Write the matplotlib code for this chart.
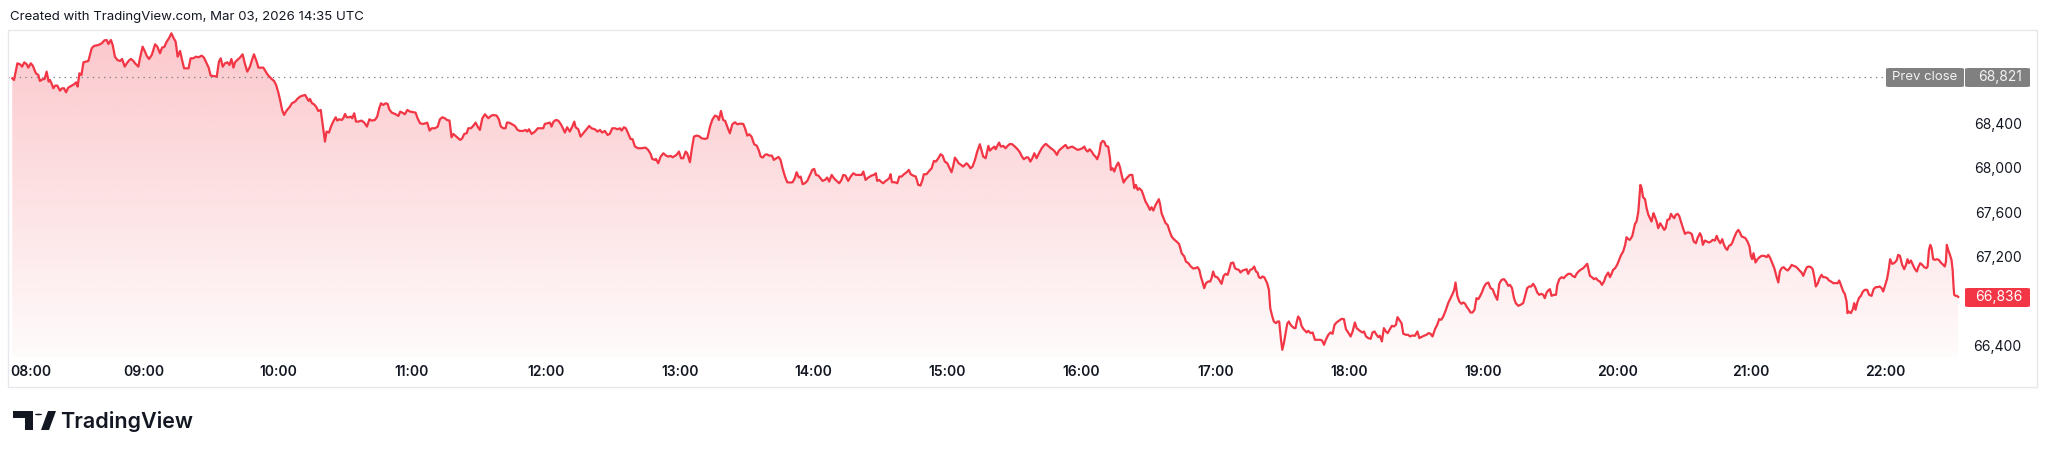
import numpy as np
import matplotlib
matplotlib.use("Agg")
import matplotlib.pyplot as plt
from matplotlib.colors import to_rgb
from matplotlib.patches import Rectangle, FancyBboxPatch, Polygon, Circle

plt.rcParams['font.family'] = ['Inter', 'DejaVu Sans']

# minutes after 08:00 (local, UTC+8) and last price
t_a = [1.0, 1.8, 3.3, 4.5, 5.4, 6.4, 7.5, 8.2, 9.3, 10.2,
       11.6, 12.7, 13.4, 14.6, 15.5, 16.4, 17.3, 17.9, 18.7, 19.4,
       20.2, 21.2, 22.4, 23.3, 24.2, 25.1, 26.1, 27.6, 28.7, 29.6,
       30.3, 31.1, 32.0, 32.9, 34.0, 35.1, 35.8, 36.6, 37.6, 39.6,
       41.1, 42.3, 43.3, 44.1, 45.2, 46.0, 47.0, 48.1, 49.3, 50.2,
       51.4, 52.3, 53.5, 54.2, 55.3, 56.0, 57.5, 58.2, 59.4, 60.5,
       61.2, 62.3, 63.5, 65.0, 66.0, 67.2, 68.1, 69.1, 70.2, 71.2,
       72.3, 73.2, 74.2, 75.1, 75.7, 76.2, 76.9, 78.0, 78.8, 80.0,
       80.9, 82.1, 83.3, 84.4, 85.9, 86.9, 88.1, 89.0, 89.9, 91.1,
       92.6, 93.6, 94.4, 95.3, 96.3, 97.4, 98.3, 99.2, 100.1, 100.8,
       101.8, 103.0, 104.2, 105.3, 106.3, 107.5, 108.4, 109.3, 110.5, 111.3,
       112.4, 113.5, 114.4, 115.3, 116.2, 117.2, 118.3, 119.2, 120.1, 121.0,
       121.9, 122.8, 123.6, 124.5, 125.4, 126.3, 127.7, 128.7, 129.9, 131.1,
       132.2, 132.9, 133.8, 134.4, 135.3, 136.2, 137.1, 138.1, 139.2, 139.9,
       140.7]
p_a = [68805, 68790, 68940, 68931, 68910, 68949, 68931, 68901, 68940, 68919,
       68850, 68835, 68781, 68796, 68799, 68865, 68775, 68790, 68754, 68715,
       68739, 68739, 68694, 68715, 68715, 68679, 68721, 68739, 68751, 68769,
       68730, 68850, 68835, 68949, 68955, 68961, 69015, 69075, 69096, 69105,
       69120, 69147, 69150, 69114, 69150, 69105, 69000, 68970, 68961, 68979,
       68910, 68940, 68970, 68979, 68961, 68940, 68910, 68985, 69090, 69045,
       69009, 68979, 69015, 69111, 69090, 69030, 69081, 69087, 69135, 69165,
       69210, 69171, 69135, 69000, 69030, 69051, 68985, 68895, 68895, 68895,
       68985, 68985, 69000, 68994, 69009, 68991, 68940, 68901, 68829, 68826,
       68820, 68955, 68985, 68910, 68940, 68949, 68925, 68979, 68901, 68949,
       68970, 68991, 69021, 68931, 68865, 68910, 68970, 69021, 68955, 68901,
       68901, 68901, 68871, 68841, 68820, 68799, 68781, 68745, 68685, 68610,
       68520, 68475, 68505, 68529, 68550, 68580, 68595, 68619, 68640, 68649,
       68655, 68631, 68601, 68619, 68580, 68571, 68550, 68511, 68520, 68415,
       68295]

t_b = [141.1, 141.8, 142.9, 143.8, 144.8, 145.9, 146.6, 147.4, 148.6, 149.3,
       150.1, 150.8, 151.9, 152.7, 153.3, 154.2, 155.0, 156.0, 157.5, 158.7,
       159.9, 161.0, 162.0, 163.5, 164.5, 165.4, 166.2, 167.2, 168.3, 169.2,
       169.9, 171.0, 172.5, 174.0, 174.8, 175.7, 176.9, 178.0, 179.2, 180.7,
       181.7, 182.6, 183.7, 185.1, 186.2, 186.9, 188.0, 188.9, 190.4, 191.6,
       192.6, 193.7, 194.8, 195.7, 196.9, 197.8, 198.6, 199.6, 200.8, 201.7,
       202.6, 203.5, 204.6, 205.3, 206.5, 207.5, 208.6, 209.5, 210.5, 211.6,
       212.8, 214.3, 215.4, 216.5, 218.0, 219.0, 219.9, 221.0, 222.0, 222.6,
       223.5, 224.7, 226.2, 227.4, 228.4, 229.9, 231.0, 231.7, 232.5, 233.7,
       235.2, 236.4, 237.4, 238.9, 239.6, 240.8, 241.9, 242.6, 243.5, 244.6,
       245.6, 246.7, 247.7, 248.6, 249.6, 250.8, 251.9, 252.8, 253.4, 254.6,
       255.6, 256.8, 258.3, 259.5, 260.5, 262.0, 263.2, 264.3, 265.3, 266.5,
       267.7, 268.7, 269.8, 271.0, 272.2, 273.2, 274.0, 275.0, 275.9, 277.0,
       278.0, 278.9, 280.0, 281.4, 282.9, 284.7, 285.9, 287.0, 287.7, 288.9]
p_b = [68235, 68325, 68316, 68370, 68415, 68454, 68424, 68436, 68430, 68445,
       68484, 68454, 68454, 68460, 68445, 68490, 68415, 68415, 68424, 68406,
       68370, 68436, 68424, 68430, 68460, 68535, 68580, 68565, 68580, 68574,
       68526, 68496, 68484, 68466, 68505, 68496, 68481, 68520, 68505, 68499,
       68496, 68445, 68400, 68394, 68400, 68406, 68334, 68355, 68355, 68370,
       68436, 68454, 68445, 68430, 68424, 68274, 68304, 68286, 68265, 68250,
       68265, 68304, 68310, 68355, 68355, 68376, 68406, 68370, 68340, 68445,
       68481, 68445, 68466, 68475, 68469, 68436, 68370, 68355, 68355, 68406,
       68406, 68394, 68376, 68340, 68331, 68331, 68340, 68325, 68346, 68304,
       68325, 68355, 68355, 68355, 68394, 68400, 68406, 68370, 68415, 68430,
       68424, 68394, 68355, 68316, 68364, 68325, 68370, 68415, 68364, 68346,
       68280, 68310, 68346, 68376, 68355, 68346, 68325, 68340, 68316, 68331,
       68295, 68304, 68355, 68355, 68346, 68355, 68334, 68364, 68355, 68304,
       68259, 68256, 68190, 68175, 68175, 68181, 68160, 68124, 68079, 68070]

t_c = [289.4, 290.4, 291.5, 292.7, 293.9, 294.9, 296.0, 296.9, 297.9, 298.6,
       299.7, 300.6, 301.6, 302.7, 303.4, 304.6, 305.5, 306.4, 307.6, 308.8,
       309.8, 311.3, 312.4, 313.6, 314.6, 315.8, 316.9, 317.6, 318.5, 319.5,
       320.4, 321.5, 322.5, 323.6, 324.8, 325.8, 327.0, 328.5, 329.3, 330.3,
       331.2, 332.2, 333.4, 334.5, 335.4, 336.3, 337.2, 338.2, 339.0, 340.1,
       341.3, 342.2, 343.4, 344.3, 345.2, 346.1, 347.2, 348.2, 349.4, 350.6,
       351.6, 352.4, 353.4, 354.2, 355.1, 356.1, 357.2, 358.4, 359.4, 360.3,
       361.1, 362.1, 363.1, 364.0, 365.1, 366.1, 367.0, 368.1, 369.1, 370.3,
       371.5, 372.5, 373.3, 374.3, 375.5, 376.6, 377.8, 379.0, 380.5, 381.5,
       382.3, 383.3, 384.5, 386.0, 387.0, 387.9, 388.5, 389.4, 390.5, 391.2,
       392.3, 393.0, 393.9, 394.5, 395.1, 396.4, 397.5, 398.4, 399.4, 400.5,
       401.7, 402.7, 403.5, 404.6, 405.8, 406.9, 407.9, 408.8, 409.4, 410.6,
       411.8, 412.9, 413.9, 414.8, 415.7, 416.9, 417.8, 418.8, 419.9, 420.8,
       421.8, 422.6, 423.3, 424.1, 425.0, 426.1, 427.0, 427.8, 428.5, 429.3,
       430.3, 431.2, 432.3, 433.3, 434.5]
p_c = [68079, 68040, 68100, 68130, 68109, 68100, 68106, 68094, 68106, 68115,
       68145, 68085, 68085, 68145, 68130, 68049, 68175, 68280, 68289, 68283,
       68265, 68259, 68265, 68370, 68430, 68469, 68460, 68430, 68511, 68430,
       68421, 68361, 68310, 68391, 68409, 68391, 68397, 68394, 68355, 68289,
       68301, 68280, 68211, 68199, 68160, 68100, 68091, 68115, 68121, 68109,
       68109, 68070, 68085, 68097, 68070, 67995, 67920, 67869, 67866, 67869,
       67905, 67959, 67911, 67920, 67851, 67860, 67881, 67935, 67980, 67989,
       67935, 67929, 67905, 67881, 67890, 67911, 67875, 67935, 67905, 67881,
       67860, 67890, 67935, 67929, 67881, 67920, 67950, 67935, 67935, 67935,
       67965, 67890, 67911, 67929, 67935, 67950, 67881, 67890, 67869, 67860,
       67881, 67890, 67905, 67941, 67869, 67869, 67860, 67920, 67920, 67941,
       67959, 67980, 67941, 67929, 67920, 67845, 67839, 67890, 67941, 67941,
       67971, 67995, 68061, 68055, 68079, 68121, 68109, 68055, 68040, 68001,
       67959, 68019, 68091, 68070, 68040, 68025, 68010, 68025, 68040, 68025,
       67995, 68010, 68070, 68145, 68211]

t_d = [435.0, 436.0, 437.1, 438.3, 439.0, 440.1, 441.0, 441.6, 442.3, 443.1,
       443.9, 445.0, 446.0, 446.9, 448.0, 449.0, 450.2, 451.4, 452.5, 453.2,
       454.2, 455.4, 456.2, 457.1, 458.0, 458.9, 459.9, 461.0, 462.2, 463.4,
       464.1, 465.1, 466.3, 467.4, 468.1, 469.0, 469.9, 471.1, 472.3, 472.9,
       473.8, 474.9, 475.9, 477.1, 478.3, 479.3, 480.4, 481.3, 482.0, 482.8,
       483.7, 484.6, 485.5, 486.3, 487.1, 488.0, 488.7, 489.5, 490.2, 491.0,
       492.0, 492.8, 493.2, 494.0, 494.7, 495.5, 496.5, 497.2, 498.0, 498.9,
       499.8, 500.7, 501.7, 502.8, 503.7, 504.4, 505.2, 505.9, 507.0, 507.7,
       508.7, 509.6, 510.7, 511.4, 512.2, 512.9, 513.8, 514.7, 515.3, 515.9,
       516.8, 517.7, 518.6, 519.3, 520.4, 521.4, 522.6, 523.7, 524.3, 524.9,
       526.1, 526.8, 527.9, 529.0, 530.1, 531.1, 532.0, 532.8, 533.5, 534.4,
       535.0, 535.8, 536.8, 537.7, 538.3, 539.0, 539.8, 540.8, 541.7, 542.8,
       543.7, 544.6, 545.5, 546.2, 547.0, 548.0, 548.8, 549.5, 550.5, 551.3,
       552.2, 553.2, 554.0, 554.7, 555.6, 556.5, 557.4, 558.2, 558.9, 559.5,
       560.3, 561.1, 561.9, 562.5, 563.2, 564.0, 564.6, 565.5, 566.2, 567.1,
       567.9, 568.6, 569.4, 570.0, 570.7, 571.5, 572.2, 572.9, 573.7, 574.4,
       575.3, 575.9, 576.5, 577.1, 577.9, 578.6, 579.5, 580.1]
p_d = [68175, 68100, 68085, 68196, 68154, 68175, 68190, 68166, 68196, 68226,
       68190, 68196, 68175, 68196, 68214, 68211, 68190, 68166, 68136, 68106,
       68076, 68094, 68091, 68055, 68085, 68130, 68085, 68130, 68175, 68205,
       68214, 68196, 68175, 68160, 68145, 68115, 68154, 68175, 68196, 68205,
       68175, 68184, 68190, 68175, 68160, 68166, 68175, 68190, 68160, 68145,
       68166, 68145, 68115, 68100, 68076, 68130, 68220, 68241, 68235, 68196,
       68190, 68085, 67980, 67995, 67965, 68010, 68046, 68010, 67935, 67866,
       67896, 67914, 67935, 67935, 67815, 67845, 67800, 67815, 67794, 67755,
       67695, 67665, 67620, 67644, 67614, 67650, 67686, 67716, 67665, 67590,
       67545, 67500, 67485, 67440, 67380, 67356, 67335, 67314, 67275, 67230,
       67200, 67155, 67140, 67110, 67092, 67095, 67104, 67080, 67020, 66960,
       66915, 66960, 66975, 66975, 67005, 67065, 67020, 67014, 66990, 66954,
       67026, 67044, 67035, 67080, 67140, 67146, 67095, 67086, 67080, 67056,
       67074, 67080, 67086, 67044, 67080, 67086, 67110, 67065, 67056, 67014,
       67005, 67020, 67014, 66990, 66960, 66900, 66735, 66660, 66615, 66600,
       66615, 66615, 66450, 66360, 66420, 66510, 66594, 66615, 66585, 66570,
       66555, 66555, 66615, 66660, 66636, 66576, 66546, 66534]

t_e = [580.9, 581.6, 582.7, 583.6, 584.6, 585.7, 586.9, 587.8, 588.7, 589.5,
       590.6, 591.6, 592.5, 593.4, 594.3, 595.5, 596.6, 597.6, 598.5, 599.5,
       600.6, 601.5, 602.5, 603.3, 604.2, 605.1, 606.0, 606.6, 607.5, 608.5,
       609.6, 610.4, 611.3, 612.2, 613.0, 613.7, 614.6, 615.5, 616.4, 617.2,
       618.2, 619.1, 620.0, 620.9, 621.6, 622.4, 623.4, 624.2, 625.4, 626.4,
       627.2, 628.2, 629.4, 630.5, 631.4, 632.2, 633.4, 634.6, 635.5, 636.4,
       637.3, 638.4, 639.4, 640.3, 641.2, 642.1, 643.3, 644.3, 645.4, 646.3,
       647.0, 647.6, 648.4, 649.3, 650.2, 651.1, 651.9, 652.5, 653.4, 654.3,
       655.2, 656.1, 657.0, 657.8, 658.5, 659.4, 660.3, 661.2, 662.3, 663.3,
       664.2, 665.2, 666.3, 667.2, 668.2, 669.3, 670.2, 671.2, 672.0, 672.9,
       673.8, 674.6, 675.7, 676.7, 677.9, 678.8, 679.7, 680.6, 681.5, 682.4,
       683.3, 684.2, 685.1, 686.0, 686.9, 687.6, 688.4, 689.1, 689.9, 690.6,
       691.7, 692.6, 693.2, 694.1, 695.1, 696.1, 697.0, 698.1, 699.1, 700.0,
       701.1, 701.8, 702.7, 703.6, 704.8, 705.8, 706.6, 707.2, 707.8, 708.7,
       709.6, 710.5, 711.4, 712.3, 713.2, 714.1, 714.9, 716.0, 716.8, 717.5,
       718.2, 719.1, 720.0, 720.9, 721.8, 722.7, 723.6, 724.2, 725.0, 725.7]
p_e = [66516, 66531, 66510, 66516, 66450, 66450, 66450, 66444, 66405, 66450,
       66495, 66516, 66504, 66585, 66606, 66624, 66639, 66636, 66546, 66516,
       66480, 66525, 66606, 66555, 66540, 66525, 66516, 66525, 66480, 66465,
       66459, 66516, 66525, 66495, 66474, 66486, 66435, 66555, 66525, 66510,
       66546, 66576, 66570, 66585, 66654, 66630, 66600, 66504, 66495, 66495,
       66480, 66489, 66486, 66525, 66465, 66474, 66486, 66495, 66510, 66504,
       66480, 66546, 66585, 66636, 66630, 66660, 66720, 66780, 66825, 66864,
       66900, 66966, 66846, 66795, 66774, 66786, 66774, 66750, 66726, 66696,
       66696, 66720, 66825, 66816, 66840, 66876, 66924, 66954, 66966, 66915,
       66906, 66855, 66810, 66954, 66990, 66996, 66975, 66936, 66945, 66915,
       66825, 66780, 66756, 66765, 66780, 66846, 66915, 66930, 66930, 66954,
       66924, 66876, 66855, 66864, 66855, 66825, 66876, 66894, 66906, 66846,
       66855, 66855, 66945, 66996, 67014, 67005, 67026, 67044, 67044, 67026,
       67014, 67044, 67065, 67080, 67095, 67116, 67134, 67080, 67026, 67014,
       66996, 67005, 66984, 66975, 66945, 66975, 67020, 67056, 67014, 67044,
       67080, 67095, 67125, 67170, 67215, 67245, 67305, 67374, 67356, 67350]

t_f = [726.2, 726.8, 727.4, 728.0, 728.7, 729.5, 729.9, 730.4, 731.0, 731.6,
       732.5, 733.2, 734.0, 734.7, 735.4, 736.3, 736.9, 737.7, 738.4, 739.3,
       740.2, 741.1, 741.7, 742.5, 743.4, 744.1, 744.9, 745.6, 746.2, 747.1,
       747.8, 748.6, 749.5, 750.4, 751.3, 752.3, 753.4, 754.3, 755.3, 756.0,
       757.1, 757.8, 758.4, 759.3, 760.2, 761.1, 762.0, 762.8, 763.8, 764.6,
       765.3, 766.2, 767.1, 767.7, 768.6, 769.3, 770.1, 771.0, 771.6, 772.5,
       773.4, 774.3, 775.0, 775.8, 776.7, 777.5, 778.4, 779.3, 779.9, 780.5,
       781.1, 782.0, 782.9, 783.8, 784.7, 785.9, 787.0, 787.7, 788.6, 789.5,
       790.4, 791.4, 792.2, 792.9, 793.7, 794.6, 795.5, 796.4, 797.3, 798.2,
       799.0, 799.9, 800.8, 801.7, 802.6, 803.4, 804.1, 805.0, 805.9, 806.8,
       807.6, 808.3, 809.0, 809.8, 810.7, 811.6, 812.3, 813.1, 814.1, 814.9,
       815.8, 816.8, 817.6, 818.8, 819.5, 820.2, 821.3, 822.0, 822.8, 823.2,
       823.8, 824.7, 825.6, 826.2, 826.8, 827.6, 828.3, 829.2, 830.1, 831.0,
       832.0, 832.9, 834.0, 834.9, 835.8, 836.7, 837.6, 838.5, 839.2, 840.0,
       840.9, 841.7, 842.3, 843.2, 844.1, 845.2, 845.9, 846.7, 847.7, 848.6,
       849.4, 850.1, 850.7, 851.6, 852.5, 853.4, 854.3, 854.9, 855.8, 856.7,
       857.6, 858.5, 859.1, 859.7, 860.3, 860.9, 861.6, 862.4, 863.2, 864.1,
       865.0, 866.1, 866.8, 867.3, 867.7, 868.3, 869.1, 869.8, 870.3, 870.7,
       871.0, 871.6, 872.2, 872.8]
p_f = [67365, 67386, 67440, 67494, 67515, 67605, 67710, 67845, 67815, 67734,
       67716, 67635, 67575, 67545, 67515, 67590, 67560, 67515, 67455, 67500,
       67470, 67440, 67455, 67530, 67536, 67584, 67560, 67545, 67575, 67584,
       67566, 67515, 67455, 67404, 67416, 67416, 67404, 67335, 67320, 67365,
       67410, 67380, 67305, 67344, 67335, 67326, 67335, 67350, 67344, 67386,
       67350, 67320, 67356, 67314, 67275, 67260, 67296, 67305, 67326, 67374,
       67416, 67440, 67416, 67380, 67374, 67365, 67335, 67290, 67206, 67176,
       67230, 67146, 67176, 67194, 67206, 67206, 67194, 67215, 67185, 67140,
       67095, 67020, 66966, 67065, 67095, 67104, 67086, 67074, 67095, 67125,
       67116, 67110, 67095, 67074, 67056, 67026, 67065, 67104, 67110, 67104,
       67086, 67020, 66930, 66954, 67005, 67035, 67014, 67014, 67005, 66984,
       66975, 66960, 66960, 66960, 66984, 66945, 66885, 66864, 66795, 66690,
       66705, 66690, 66726, 66780, 66720, 66786, 66825, 66846, 66885, 66900,
       66900, 66855, 66846, 66906, 66924, 66924, 66930, 66915, 66885, 66936,
       66996, 67086, 67176, 67134, 67140, 67164, 67215, 67206, 67125, 67086,
       67125, 67176, 67140, 67164, 67125, 67086, 67065, 67104, 67140, 67125,
       67104, 67095, 67110, 67260, 67305, 67275, 67176, 67170, 67176, 67170,
       67146, 67125, 67110, 67155, 67305, 67260, 67215, 67170, 67080, 66936,
       66855, 66846, 66846, 66836]

for tt, pp in [(t_a, p_a), (t_b, p_b), (t_c, p_c), (t_d, p_d), (t_e, p_e), (t_f, p_f)]:
    assert len(tt) == len(pp), (len(tt), len(pp))

minutes = np.array(t_a + t_b + t_c + t_d + t_e + t_f)
price = np.array(p_a + p_b + p_c + p_d + p_e + p_f)

hour_labels = ["08:00", "09:00", "10:00", "11:00", "12:00", "13:00", "14:00", "15:00",
               "16:00", "17:00", "18:00", "19:00", "20:00", "21:00", "22:00"]
# 66,800 and 68,800 sit under the last-price and prev-close labels
price_ticks = [66400, 67200, 67600, 68000, 68400]
prev_close = 68821
last_price = 66836

RED = "#F23645"
TXT = "#131722"
W, H = 2048, 454

fig = plt.figure(figsize=(W / 100, H / 100), dpi=100)
fig.patch.set_facecolor("white")


def fx(px):
    return px / W


def fy(py):
    return 1 - py / H


# chart pane
x0, x1, y0, y1 = 8, 1962, 30, 357
ax = fig.add_axes([fx(x0), fy(y1), fx(x1) - fx(x0), fy(y0) - fy(y1)])
xlim = (-0.9, 874.5)
ylim = (66295, 69240)

# gradient area under the line
area = ax.fill_between(minutes, price, ylim[0], color="none", lw=0)
grad = np.zeros((256, 1, 4))
grad[..., :3] = to_rgb(RED)
grad[:, 0, 3] = np.linspace(0.28, 0.02, 256)
im = ax.imshow(grad, extent=[xlim[0], xlim[1], ylim[0], ylim[1]],
               aspect="auto", origin="upper", zorder=1, interpolation="bilinear")
im.set_clip_path(area.get_paths()[0], transform=ax.transData)

ax.plot(minutes, price, color=RED, lw=1.6, zorder=3, solid_joinstyle="round")

# prev close dotted line, runs under its label
ax.axhline(prev_close, xmin=0, xmax=1, color="#787B86", lw=0.9,
           ls=(0, (1, 3.5)), zorder=2)

ax.set_xlim(*xlim)
ax.set_ylim(*ylim)
for s in ax.spines.values():
    s.set_visible(False)

ax.set_xticks([60 * i for i in range(len(hour_labels))])
ax.set_xticklabels(hour_labels, fontsize=10, fontweight="semibold", color=TXT)
ax.get_xticklabels()[0].set_ha("left")
ax.tick_params(axis="x", length=0, pad=6)

ax.yaxis.tick_right()
ax.set_yticks(price_ticks)
ax.set_yticklabels([f"{v:,}" for v in price_ticks], fontsize=10, color=TXT)
for lbl in ax.get_yticklabels():
    lbl.set_ha("right")
ax.tick_params(axis="y", length=0, pad=43)

# outer frame
fig.add_artist(Rectangle((fx(8), fy(387)), fx(2037) - fx(8), fy(30) - fy(387),
                         transform=fig.transFigure, fill=False,
                         edgecolor="#E6E8EE", lw=1))


def label_box(left, right, top, bottom, color):
    fig.add_artist(FancyBboxPatch((fx(left), fy(bottom)), fx(right) - fx(left),
                                  fy(top) - fy(bottom),
                                  boxstyle="round,pad=0,rounding_size=0.002",
                                  transform=fig.transFigure, facecolor=color,
                                  edgecolor="none", zorder=5))


# prev close label
label_box(1886, 1964, 68, 87, "#808080")
label_box(1965, 2030, 68, 87, "#808080")
fig.text(fx(1925), fy(77.5), "Prev close", fontsize=9.5, color="#F2F2F2",
         ha="center", va="center", zorder=6)
fig.text(fx(2022), fy(77.5), f"{prev_close:,}", fontsize=10, color="#F2F2F2",
         ha="right", va="center", zorder=6)

# last price label
label_box(1965, 2030, 288, 307, RED)
fig.text(fx(2022), fy(297.5), f"{last_price:,}", fontsize=10, color="white",
         ha="right", va="center", zorder=6)

fig.text(fx(10), fy(17), "Created with TradingView.com, Mar 03, 2026 14:35 UTC",
         fontsize=9.5, color=TXT, ha="left", va="center")

# TradingView logo mark
mark = [
    Polygon([(13, 411), (33, 411), (33, 430), (25, 430), (25, 418), (13, 418)]),
    Polygon([(41, 430), (48, 411), (56, 411), (49, 430)]),
]
for m in mark:
    xy = m.get_xy()
    m.set_xy([(fx(a), fy(b)) for a, b in xy])
    m.set_transform(fig.transFigure)
    m.set_facecolor(TXT)
    m.set_edgecolor("none")
    fig.add_artist(m)
fig.add_artist(Circle((fx(38.5), fy(414.5)), fx(3.6), transform=fig.transFigure,
                      facecolor=TXT, edgecolor="none"))
fig.text(fx(60), fy(421), "TradingView", fontsize=15.5, fontweight="semibold",
         color=TXT, ha="left", va="center")

fig.savefig("out.png", dpi=100, facecolor="white")
